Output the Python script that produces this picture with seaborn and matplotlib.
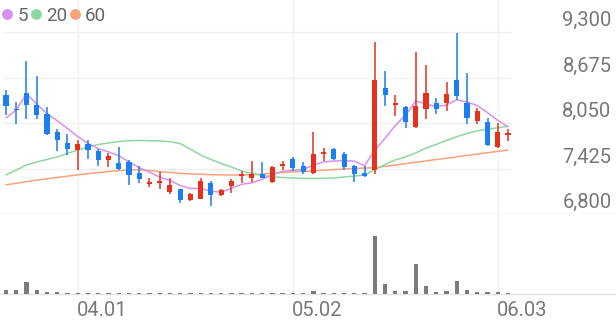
import numpy as np
import pandas as pd
import matplotlib
matplotlib.use("Agg")
import matplotlib.pyplot as plt
import seaborn as sns
from matplotlib.lines import Line2D
from matplotlib.transforms import offset_copy, blended_transform_factory

# ---------------- data ----------------
dates = ["03.21", "03.22", "03.25", "03.26", "03.27", "03.28", "03.29",
         "04.01", "04.02", "04.03", "04.04", "04.05", "04.08", "04.09",
         "04.11", "04.12", "04.15", "04.16", "04.17", "04.18", "04.19",
         "04.22", "04.23", "04.24", "04.25", "04.26", "04.29", "04.30",
         "05.02", "05.03", "05.07", "05.08", "05.09", "05.10", "05.13",
         "05.14", "05.16", "05.17", "05.20", "05.21", "05.22", "05.23",
         "05.24", "05.27", "05.28", "05.29", "05.30", "05.31", "06.03",
         "06.04"]

opens = [8440, 8240, 8460, 8300, 8170, 7920, 7780, 7680, 7760, 7660,
         7540, 7500, 7520, 7360, 7210, 7230, 7100, 7140, 6990, 7010,
         7220, 7060, 7180, 7320, 7300, 7350, 7240, 7460, 7560, 7460,
         7370, 7620, 7690, 7630, 7460, 7360, 7400, 8530, 8300, 8270,
         7990, 8240, 8320, 8330, 8640, 8320, 8080, 8070, 7720, 7880]
highs = [8500, 8340, 8900, 8690, 8270, 7970, 7900, 7820, 7820, 7690,
         7640, 7720, 7540, 7460, 7300, 7380, 7300, 7150, 7090, 7290,
         7250, 7140, 7280, 7390, 7530, 7510, 7460, 7530, 7580, 7520,
         7920, 7700, 7700, 7650, 7470, 7460, 9160, 8770, 8430, 8290,
         9020, 8850, 8390, 8620, 9280, 8730, 8250, 8120, 8050, 7970]
lows = [8160, 8040, 8100, 8100, 7880, 7670, 7610, 7400, 7560, 7460,
        7440, 7410, 7200, 7230, 7170, 7140, 7080, 6950, 6980, 7000,
        6910, 7050, 7090, 7230, 7240, 7290, 7230, 7410, 7390, 7350,
        7350, 7530, 7540, 7400, 7240, 7310, 7350, 8280, 8140, 7980,
        7980, 8100, 8170, 8210, 8370, 8040, 8040, 7740, 7710, 7800]
closes = [8290, 8230, 8300, 8160, 7900, 7820, 7690, 7760, 7680, 7540,
          7600, 7420, 7340, 7280, 7240, 7250, 7200, 6990, 7070, 7250,
          7060, 7130, 7250, 7350, 7350, 7300, 7450, 7480, 7430, 7380,
          7630, 7650, 7550, 7450, 7350, 7320, 8640, 8440, 8330, 8060,
          8280, 8460, 8240, 8450, 8420, 8120, 8220, 7750, 7920, 7910]

ma5 = [8120, 8230, 8450, 8310, 8176, 8082, 7974, 7866, 7770, 7698,
       7654, 7600, 7516, 7436, 7376, 7306, 7262, 7192, 7150, 7152,
       7114, 7100, 7152, 7208, 7228, 7276, 7340, 7386, 7402, 7408,
       7474, 7514, 7528, 7532, 7526, 7464, 7680, 7840, 8016, 8158,
       8350, 8314, 8274, 8298, 8370, 8338, 8290, 8192, 8086, 8000]
ma20 = [7336, 7404, 7473, 7514, 7549, 7583, 7631, 7679, 7720, 7755,
        7775, 7796, 7807, 7810, 7807, 7803, 7793, 7768, 7690, 7610,
        7549, 7494, 7446, 7391, 7356, 7329, 7312, 7301, 7295, 7290,
        7288, 7290, 7295, 7308, 7322, 7336, 7410, 7480, 7543, 7583,
        7640, 7705, 7757, 7810, 7862, 7906, 7942, 7965, 7985, 8005]
ma60 = [7200, 7222, 7244, 7265, 7284, 7302, 7320, 7338, 7354, 7369,
        7383, 7396, 7404, 7406, 7398, 7382, 7370, 7360, 7350, 7345,
        7340, 7338, 7336, 7336, 7338, 7348, 7360, 7370, 7378, 7386,
        7394, 7402, 7410, 7418, 7425, 7432, 7436, 7455, 7473, 7492,
        7510, 7529, 7549, 7566, 7586, 7605, 7623, 7642, 7660, 7679]

volume = [32000, 38000, 118000, 32000, 15000, 15000, 7000, 5000, 5000, 5000,
          5000, 5000, 5000, 5000, 5000, 5000, 5000, 5000, 5000, 5000,
          5000, 5000, 5000, 5000, 5000, 5000, 5000, 5000, 5000, 5000,
          25000, 7000, 5000, 5000, 5000, 5000, 578000, 93000, 28000, 20000,
          293000, 70000, 18000, 28000, 125000, 33000, 13000, 15000, 10000, 5000]

price_ticks = [6800, 7425, 8050, 8675, 9300]
price_tick_labels = ["6,800", "7,425", "8,050", "8,675", "9,300"]
date_ticks = ["04.01", "05.02", "06.03"]
legend_labels = ["5", "20", "60"]

# ---------------- style ----------------
RED = "#e5321d"
BLUE = "#1c7ff0"
C_MA5 = "#d98ff0"
C_MA20 = "#8ed8a0"
C_MA60 = "#f8a37c"
C_VOL = "#7b7b7b"
GRID = "#f0f0f0"
SEP = "#e2e2e2"
TXT = "#787878"
LEG_TXT = "#666666"

sns.set_theme(style="white")
plt.rcParams['font.family'] = ['Roboto', 'DejaVu Sans']

df = pd.DataFrame({"date": dates, "open": opens, "high": highs, "low": lows,
                   "close": closes, "ma5": ma5, "ma20": ma20, "ma60": ma60,
                   "volume": volume})
df["idx"] = np.arange(len(df))

W, H = 616, 321
fig = plt.figure(figsize=(W / 100, H / 100), dpi=100)
fig.patch.set_facecolor("white")
ax = fig.add_axes([0, (H - 214) / H, 1, 214 / H])
axv = fig.add_axes([0, (H - 293.5) / H, 1, (293.5 - 214) / H])

step, x0 = 10.245, 6.0
xlim = (-x0 / step, (W - x0) / step)

# moving averages
for col, c in (("ma60", C_MA60), ("ma20", C_MA20), ("ma5", C_MA5)):
    sns.lineplot(data=df, x="idx", y=col, ax=ax, color=c, linewidth=1.1,
                 legend=False, zorder=2)

# candles
o = df["open"].to_numpy(float)
c = df["close"].to_numpy(float)
up = c > o
colors = np.where(up, RED, BLUE)
min_h = 25.0
diff = np.abs(c - o)
mid = (o + c) / 2
bottom = np.where(diff < min_h, mid - min_h / 2, np.minimum(o, c))
height = np.maximum(diff, min_h)
ax.vlines(df["idx"], df["low"], df["high"], colors=colors, linewidth=1.1, zorder=3)
ax.bar(df["idx"], height, bottom=bottom, width=0.5, color=colors, linewidth=0, zorder=4)

# volume
sns.barplot(data=df, x="idx", y="volume", ax=axv, color=C_VOL, saturation=1,
            width=0.42, native_scale=True, errorbar=None, zorder=3)
bar_w = 0.42
for patch in axv.patches:
    cx = patch.get_x() + patch.get_width() / 2
    patch.set_width(bar_w)
    patch.set_x(cx - bar_w / 2)
    patch.set_linewidth(0)

# axes limits
top_price = price_ticks[-1] + (price_ticks[-1] - price_ticks[0]) * 32 / 182
ax.set_ylim(price_ticks[0], top_price)
ax.set_xlim(*xlim)
axv.set_xlim(*xlim)
axv.set_ylim(0, max(volume) * 1.375)

for a in (ax, axv):
    a.set_xlabel("")
    a.set_ylabel("")
    a.set_xticks([])
    a.set_yticks([])
    a.set_facecolor("white")
    for s in ("top", "left", "right"):
        a.spines[s].set_visible(False)
    a.spines["bottom"].set_color(SEP)
    a.spines["bottom"].set_linewidth(1.0)
    a.spines["bottom"].set_zorder(1)

# grid lines
for v in price_ticks[1:]:
    ax.axhline(v, xmin=3 / W, xmax=511 / W, color=GRID, linewidth=1.0, zorder=0)
tick_pos = [dates.index(d) for d in date_ticks]
for p in tick_pos:
    ax.axvline(p, color=GRID, linewidth=1.0, zorder=0)
    axv.axvline(p, color=GRID, linewidth=1.0, zorder=0)

# price labels (right side, above their grid line)
ytrans = offset_copy(blended_transform_factory(ax.transAxes, ax.transData),
                     fig=fig, x=0, y=6, units="dots")
for v, lab in zip(price_ticks, price_tick_labels):
    ax.text(611.5 / W, v, lab, transform=ytrans, ha="right", va="baseline",
            fontsize=14.5, color=TXT)

# date labels (left-aligned at their grid line)
xtrans = offset_copy(blended_transform_factory(axv.transData, axv.transAxes),
                     fig=fig, x=-1, y=-23, units="dots")
for p, lab in zip(tick_pos, date_ticks):
    axv.text(p, 0, lab, transform=xtrans, ha="left", va="baseline",
             fontsize=14.5, color=TXT, clip_on=False)

# legend
handles = [Line2D([0], [0], marker="o", linestyle="", markersize=7.8,
                  markerfacecolor=col, markeredgewidth=0)
           for col in (C_MA5, C_MA20, C_MA60)]
fig.legend(handles, legend_labels, loc="upper left",
           bbox_to_anchor=(1.4 / W, 1 - 7 / H),
           ncol=3, frameon=False, fontsize=13.5, handlelength=0.6,
           handletextpad=0.24, columnspacing=0.12, borderpad=0, borderaxespad=0,
           labelcolor=LEG_TXT)

fig.savefig("out.png", dpi=100, facecolor="white")
